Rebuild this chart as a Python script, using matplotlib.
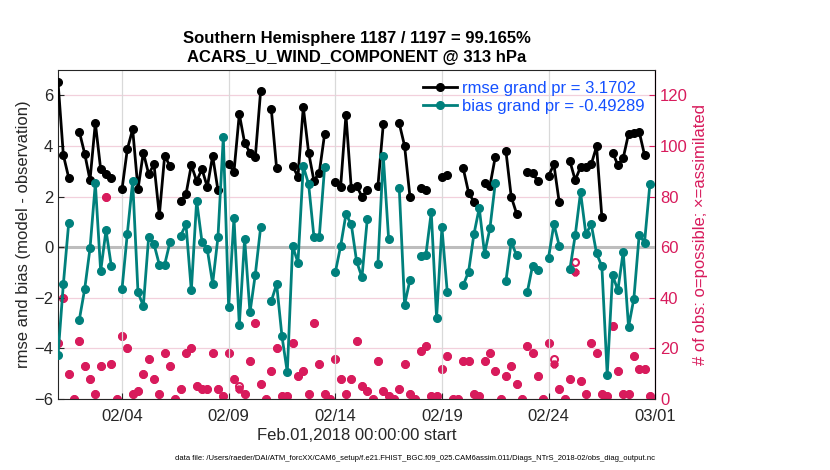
import numpy as np
import matplotlib
matplotlib.use("Agg")
import matplotlib.pyplot as plt

plt.rcParams['font.family'] = ['Liberation Sans', 'DejaVu Sans']

nan = np.nan

# 6-hourly bins starting Feb.01,2018 00Z (index 0..112)
rmse = [6.53, 3.64, 2.75, nan, 4.56, 3.70, 2.65, 4.91, 3.08, 2.89,
        2.75, nan, 2.29, 3.87, 4.66, 2.29, 3.74, 2.89, 3.27, 1.26,
        3.61, 3.21, nan, 1.82, 2.09, 3.24, 2.62, 3.08, 2.38, 3.61,
        2.24, nan, 3.27, 2.98, 5.26, 4.12, 3.74, 3.56, 6.17, nan,
        5.45, 3.11, nan, nan, 3.20, 2.79, 5.53, 3.74, 2.62, 2.95,
        4.47, nan, 2.57, 2.37, 5.22, 2.32, 2.42, 2.00, 2.24, nan,
        2.42, 4.85, nan, nan, 4.89, 4.00, 2.00, nan, 2.32, 2.27,
        nan, nan, 2.79, 2.85, nan, nan, 3.11, 2.16, 1.79, nan,
        2.52, 2.42, 3.56, nan, 3.80, 1.99, 1.33, nan, 2.98, 2.92,
        2.61, nan, 2.82, 3.27, 1.77, nan, 3.40, 2.65, 3.17, 3.18,
        3.27, 3.98, 1.18, nan, 3.74, 3.25, 3.52, 4.48, 4.52, 4.56,
        3.64, nan, nan]

bias = [-4.27, -1.46, 0.94, nan, -2.86, -1.66, -0.05, 2.52, -0.95, 0.67,
        -0.75, nan, -1.66, 0.54, 2.61, -1.79, -2.32, 0.40, 0.12, -0.69,
        -0.69, 0.20, nan, 0.46, 0.90, -1.71, 1.84, 0.21, -0.09, -1.44,
        0.40, 4.35, -2.38, 1.17, -3.08, 0.34, -2.58, -1.08, 0.78, nan,
        -2.13, -1.46, -3.52, -4.94, 0.04, -0.61, 3.20, 2.49, 0.40, 0.42,
        3.16, nan, -1.00, 0.04, 1.30, 0.91, -0.56, -1.19, 1.11, nan,
        -0.65, 3.61, 0.34, nan, 2.32, -2.27, -1.30, nan, -0.33, -0.29,
        1.38, -2.78, 0.78, -1.77, nan, nan, -1.50, -0.97, 0.51, 1.55,
        -0.26, 0.74, 2.52, nan, -1.34, 0.21, -0.32, nan, -1.79, -0.73,
        -0.91, nan, -0.41, 0.91, 0.06, nan, -0.87, 0.47, 2.17, 0.51,
        0.91, -0.24, -0.76, -5.05, -1.11, -1.70, -0.18, -3.15, -2.03, 0.50,
        0.18, 2.49, nan]

n_used = [22, 40, 10, 0, 23, 13, 8, 2, 13, 80,
          14, 0, 25, 20, 2, 3, 10, 16, 8, 2,
          18, 13, 0, 4, 18, 20, 5, 4, 4, 18,
          4, 1, 18, 8, 4, 2, 15, 30, 6, 0,
          11, 20, 1, 1, 22, 9, 11, 2, 30, 14,
          2, 0, 16, 8, 2, 8, 23, 5, 3, 0,
          15, 3, 1, 0, 4, 14, 2, 0, 19, 21,
          1, 1, 12, 17, 0, 0, 15, 15, 2, 1,
          15, 18, 11, 0, 9, 13, 6, 0, 21, 18,
          9, 0, 22, 14, 4, 0, 8, 50, 7, 2,
          22, 18, 2, 1, 29, 11, 2, 2, 17, 12,
          12, 1, 0]

n_poss = list(n_used)
n_poss[34] = 5
n_poss[93] = 16
n_poss[97] = 54

xticks = [3, 8, 13, 18, 23, 28]
xticklabels = ['02/04', '02/09', '02/14', '02/19', '02/24', '03/01']

days = np.arange(len(rmse)) / 4.0

red = '#d81b5c'
teal = '#00807c'

fig = plt.figure(figsize=(8.3, 4.7), dpi=100)
ax = fig.add_axes([0.0699, 0.151, 0.7195, 0.700])
ax2 = ax.twinx()

# grid
ax.set_xticks(xticks)
ax.set_xticklabels(xticklabels)
ax.xaxis.grid(True, color='#d9d9d9', lw=0.9)
ax2.set_yticks(np.arange(0, 121, 20))
ax2.yaxis.grid(True, color='#f2d0dc', lw=0.9)
ax.axhline(0, color='#bdbdbd', lw=2.2, zorder=1)

ax.plot(days, rmse, '-o', color='black', lw=2, ms=5.5, zorder=3,
        label='rmse grand pr = 3.1702')
ax.plot(days, bias, '-o', color=teal, lw=2, ms=5.5, zorder=3,
        label='bias grand pr = -0.49289')

ax2.plot(days, n_poss, 'o', mfc='none', mec=red, mew=1.5, ms=5, ls='none')
ax2.plot(days, n_used, marker=(8, 2, 0), color=red, mew=2.2, ms=5.5, ls='none')

ax.set_xlim(0, 28)
ax.set_ylim(-6, 7)
ax.set_yticks(np.arange(-6, 7, 2))
ax2.set_ylim(0, 130)

ax.tick_params(labelsize=12, direction='in', length=4, colors='#262626')
ax.tick_params(axis='x', pad=7)
ax2.tick_params(labelsize=12, direction='in', length=4, colors=red)
ax2.spines['right'].set_color(red)
for s in ['left', 'bottom', 'top']:
    ax.spines[s].set_color('#262626')
    ax2.spines[s].set_visible(False)

ax.set_xlabel('Feb.01,2018 00:00:00 start', fontsize=12, color='#262626', labelpad=3)
ax.set_ylabel('rmse and bias (model - observation)', fontsize=12, color='#262626', labelpad=2)
ax2.set_ylabel('# of obs: o=possible; \u00d7=assimilated', fontsize=12, color=red)

ax.set_title('Southern Hemisphere 1187 / 1197 = 99.165%\nACARS_U_WIND_COMPONENT @ 313 hPa',
             fontsize=12, fontweight='bold', linespacing=1.3)

leg = ax.legend(loc='upper right', frameon=False, fontsize=12, handlelength=2.0,
                borderaxespad=0.25, handletextpad=0.3, labelspacing=0.2)
for t in leg.get_texts():
    t.set_color('#1450ff')
leg.set_zorder(10)
ax.set_zorder(ax2.get_zorder() + 1)
ax.patch.set_visible(False)

fig.text(0.5, 0.022, 'data file: /Users/raeder/DAI/ATM_forcXX/CAM6_setup/f.e21.FHIST_BGC.f09_025.CAM6assim.011/Diags_NTrS_2018-02/obs_diag_output.nc',
         ha='center', fontsize=5.5)

fig.savefig('out.png', dpi=100)
